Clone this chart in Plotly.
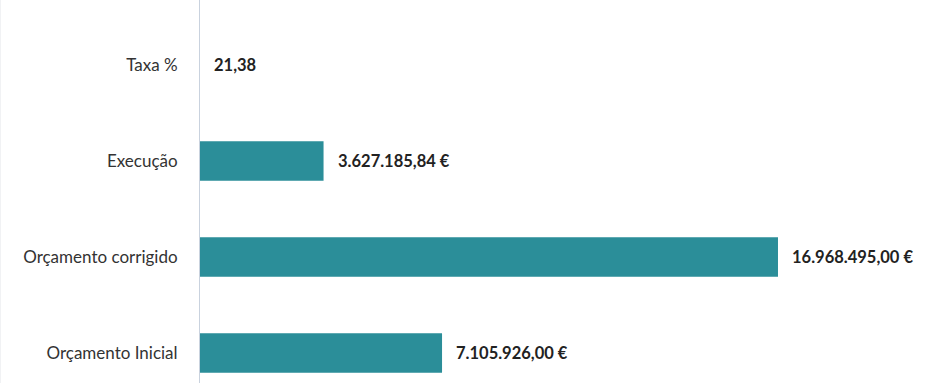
import plotly.graph_objects as go

categories = ["Orçamento Inicial", "Orçamento corrigido", "Execução", "Taxa %"]
values = [7105926.00, 16968495.00, 3627185.84, 21.38]
labels = ["7.105.926,00 €", "16.968.495,00 €", "3.627.185,84 €", "21,38"]

bar_color = "#2b8e99"

fig = go.Figure(go.Bar(
    x=values, y=categories, orientation="h",
    marker=dict(color=bar_color, line=dict(width=0)),
    width=0.41,
))

for v, c, t in zip(values, categories, labels):
    fig.add_annotation(x=v, y=c, text="<b>%s</b>" % t, showarrow=False,
                       xanchor="left", yanchor="middle", xshift=12,
                       font=dict(family="Lato, Open Sans, sans-serif", size=16.5, color="#222"))

fig.update_layout(
    width=932, height=383,
    margin=dict(l=200, r=0, t=0, b=0),
    plot_bgcolor="white", paper_bgcolor="white",
    showlegend=False,
    font=dict(family="Lato, Open Sans, sans-serif", size=17, color="#333"),
)
fig.update_xaxes(range=[0, 21.49e6], showgrid=False, zeroline=False,
                 showticklabels=False, showline=False)
fig.update_yaxes(type="category", categoryorder="array", categoryarray=categories,
                 range=[-0.3125, 3.677], showgrid=False, zeroline=False,
                 showline=True, linecolor="#c9d2de", linewidth=1,
                 ticks="", ticklabelstandoff=18,
                 tickfont=dict(family="Lato, Open Sans, sans-serif", size=17, color="#333"))

fig.add_shape(type="line", xref="paper", yref="paper", x0=-200/732, x1=-200/732,
              y0=0, y1=1, line=dict(color="#e4e6ea", width=1))

fig.write_html("out.html")
